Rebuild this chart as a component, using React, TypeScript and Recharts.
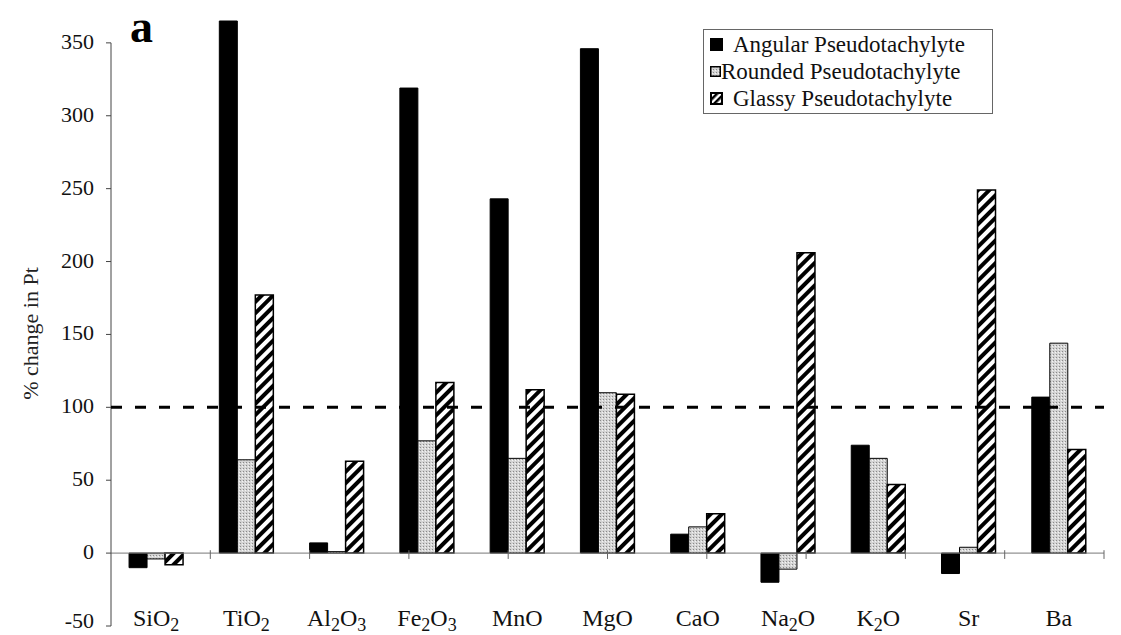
import React from 'react';
import { BarChart, Bar, XAxis, YAxis, ReferenceLine, Legend } from 'recharts';

const categories = ['SiO2', 'TiO2', 'Al2O3', 'Fe2O3', 'MnO', 'MgO', 'CaO', 'Na2O', 'K2O', 'Sr', 'Ba'];
const angular = [-10, 365, 7, 319, 243, 346, 13, -20, 74, -14, 107];
const rounded = [-4, 64, 1, 77, 65, 110, 18, -11, 65, 4, 144];
const glassy = [-8, 177, 63, 117, 112, 109, 27, 206, 47, 249, 71];
const yTicks = [-50, 0, 50, 100, 150, 200, 250, 300, 350];
const seriesNames = ['Angular Pseudotachylyte', 'Rounded Pseudotachylyte', 'Glassy Pseudotachylyte'];
const referenceLevel = 100;
const axisTop = 350;
const axisBottom = -50;

const data = categories.map((c, i) => ({
  name: c,
  angular: angular[i],
  rounded: rounded[i],
  glassy: glassy[i],
}));

const SERIF = 'Liberation Serif';

function formulaParts(label: string) {
  const parts: { t: string; sub: boolean }[] = [];
  const re = /(\d+)|(\D+)/g;
  let m;
  while ((m = re.exec(label))) {
    parts.push({ t: m[0], sub: !!m[1] });
  }
  return parts;
}

const XTick = (props: any) => {
  const { x, y, payload } = props;
  const parts = formulaParts(String(payload.value));
  return (
    <text x={x} y={y} dy={3} textAnchor="middle" fontFamily={SERIF} fontSize={24} fill="#111" style={{ fontFamily: SERIF }}>
      {parts.map((p, i) =>
        p.sub ? (
          <tspan key={i} dy={5} fontSize={18}>{p.t}</tspan>
        ) : (
          <tspan key={i} dy={i > 0 && parts[i - 1].sub ? -5 : 0}>{p.t}</tspan>
        )
      )}
    </text>
  );
};

const YTick = (props: any) => {
  const { x, y, payload } = props;
  return (
    <text x={x} y={y} dy={payload.value === axisBottom ? 2 : 6} textAnchor="end" fontFamily={SERIF} fontSize={22} fill="#111" style={{ fontFamily: SERIF }}>
      {payload.value}
    </text>
  );
};

const Swatch = ({ kind }: { kind: number }) => {
  if (kind === 0) {
    return (
      <svg width={13} height={13} style={{ display: 'block' }}>
        <rect x={0} y={0} width={13} height={13} fill="#000" />
      </svg>
    );
  }
  if (kind === 1) {
    return (
      <svg width={11} height={11} style={{ display: 'block' }}>
        <defs>
          <pattern id="lgStipple" width={3} height={3} patternUnits="userSpaceOnUse">
            <rect width={3} height={3} fill="#d4d4d4" />
            <rect x={0} y={0} width={1} height={1} fill="#8a8a8a" />
            <rect x={2} y={1} width={1} height={1} fill="#f4f4f4" />
          </pattern>
        </defs>
        <rect x={0.75} y={0.75} width={9.5} height={9.5} fill="url(#lgStipple)" stroke="#000" strokeWidth={1.5} />
      </svg>
    );
  }
  return (
    <svg width={13} height={13} style={{ display: 'block' }}>
      <defs>
        <pattern id="lgHatch" width={5} height={5} patternUnits="userSpaceOnUse" patternTransform="rotate(45)">
          <rect width={5} height={5} fill="#fff" />
          <rect width={2.5} height={5} fill="#000" />
        </pattern>
      </defs>
      <rect x={1} y={1} width={11} height={11} fill="url(#lgHatch)" stroke="#000" strokeWidth={2} />
    </svg>
  );
};

const LegendBox = () => (
  <div
    style={{
      border: '1px solid #666',
      width: 290,
      height: 85,
      boxSizing: 'border-box',
      paddingTop: 1,
      fontFamily: SERIF,
      fontSize: 23,
      color: '#111',
      background: '#fff',
    }}
  >
    {seriesNames.map((n, i) => (
      <div key={n} style={{ display: 'flex', alignItems: 'center', height: 27 }}>
        <div style={{ width: i === 1 ? 17 : 29, display: 'flex', justifyContent: 'flex-start', paddingLeft: 6, boxSizing: 'border-box' }}>
          <Swatch kind={i} />
        </div>
        <span style={{ whiteSpace: 'nowrap' }}>{n}</span>
      </div>
    ))}
  </div>
);

export default function App() {
  const separators = categories.map((_, i) => i).slice(1);
  return (
    <div style={{ position: 'absolute', left: 0, top: 0, width: 1121, height: 635, background: '#fff' }}>
      <BarChart
        width={1121}
        height={635}
        data={data}
        margin={{ top: 21, right: 17, bottom: 0, left: 0 }}
        barCategoryGap="20%"
        barGap={0}
      >
        <defs>
          <pattern id="stipple" width={3} height={3} patternUnits="userSpaceOnUse">
            <rect width={3} height={3} fill="#d4d4d4" />
            <rect x={0} y={0} width={1} height={1} fill="#8a8a8a" />
            <rect x={2} y={1} width={1} height={1} fill="#f4f4f4" />
          </pattern>
          <pattern id="hatch" width={8} height={8} patternUnits="userSpaceOnUse" patternTransform="rotate(45)">
            <rect width={8} height={8} fill="#fff" />
            <rect width={4} height={8} fill="#000" />
          </pattern>
        </defs>
        <XAxis
          dataKey="name"
          axisLine={false}
          tickLine={false}
          tickSize={0}
          tickMargin={0}
          height={9}
          tick={<XTick />}
          interval={0}
        />
        <XAxis xAxisId="num" type="number" domain={[0, categories.length]} allowDataOverflow hide />
        <YAxis
          width={111}
          domain={[axisBottom, 'dataMax']}
          ticks={yTicks}
          interval={0}
          axisLine={false}
          tickLine={{ stroke: '#444' }}
          tickSize={5}
          tickMargin={12}
          tick={<YTick />}
          label={{
            value: '% change in Pt',
            angle: -90,
            position: 'insideLeft',
            offset: 30,
            dy: 10,
            style: { fontFamily: SERIF, fontSize: 22, fill: '#222', textAnchor: 'middle' },
          }}
        />
        <Legend
          layout="vertical"
          align="center"
          verticalAlign="middle"
          wrapperStyle={{ left: 703, top: 29, width: 290, height: 86 }}
          content={<LegendBox />}
        />
        <ReferenceLine y={0} stroke="#777" strokeWidth={1} />
        {separators.map((s) => (
          <ReferenceLine
            key={s}
            xAxisId="num"
            segment={[{ x: s, y: 2 }, { x: s, y: -4 }]}
            stroke="#666"
            strokeWidth={1}
          />
        ))}
        <Bar dataKey="angular" name={seriesNames[0]} fill="#000" stroke="#000" strokeWidth={1} isAnimationActive={false} />
        <Bar dataKey="rounded" name={seriesNames[1]} fill="url(#stipple)" stroke="#000" strokeWidth={1} isAnimationActive={false} />
        <Bar dataKey="glassy" name={seriesNames[2]} fill="url(#hatch)" stroke="#000" strokeWidth={1.5} isAnimationActive={false} />
        <ReferenceLine
          xAxisId="num"
          segment={[{ x: 0, y: axisBottom }, { x: 0, y: axisTop }]}
          stroke="#444"
          strokeWidth={1}
        />
        <ReferenceLine y={referenceLevel} stroke="#000" strokeWidth={3} strokeDasharray="11 13" />
      </BarChart>
      <div
        style={{
          position: 'absolute',
          left: 130,
          top: 4,
          fontFamily: SERIF,
          fontWeight: 'bold',
          fontSize: 46,
          lineHeight: '46px',
          color: '#000',
        }}
      >
        a
      </div>
    </div>
  );
}
